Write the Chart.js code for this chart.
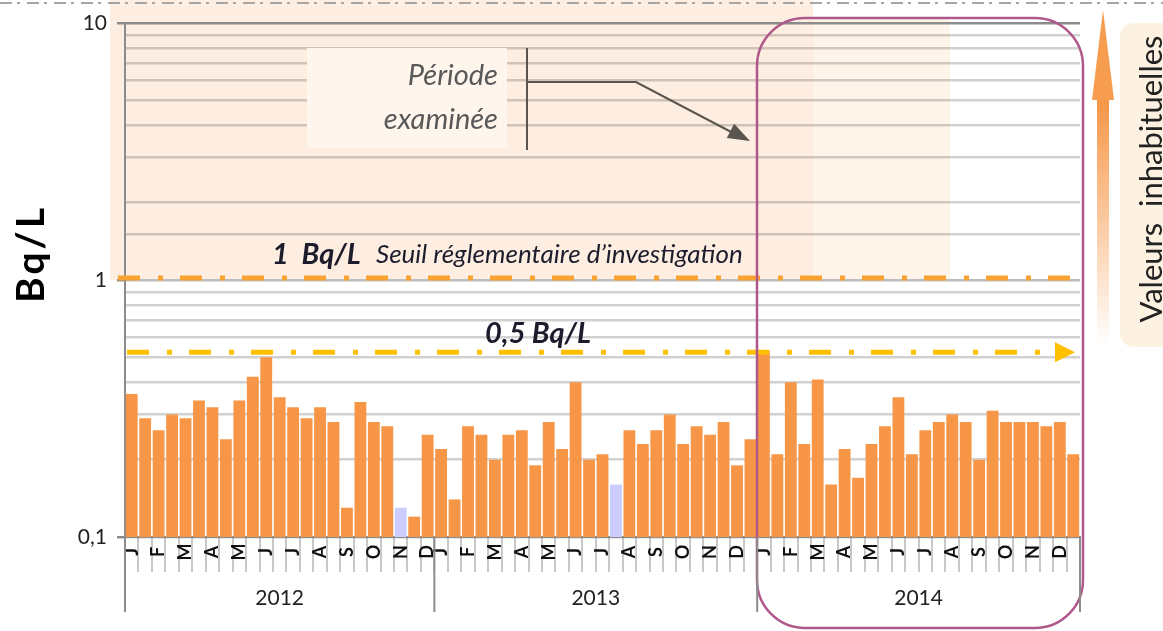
<!DOCTYPE html>
<html lang="fr">
<head>
<meta charset="utf-8">
<title>Activité mesurée (Bq/L)</title>
<script src="https://cdn.jsdelivr.net/npm/chart.js@4.4.1/dist/chart.umd.min.js"></script>
<style>
    html, body { margin: 0; padding: 0; background: #fff; }
    #wrap { position: relative; width: 1163px; height: 631px; }
</style>
</head>
<body>
<div id="wrap"><canvas id="chart"></canvas></div>
<script>
// Years shown under the axis and number of samples in each
const years = ['2012', '2013', '2014'];
const samplesPerYear = [23, 24, 24];
const monthLetters = ['J', 'F', 'M', 'A', 'M', 'J', 'J', 'A', 'S', 'O', 'N', 'D'];

// Measured activity (Bq/L), two samples per month
const values2012 = [0.36, 0.29, 0.26, 0.30, 0.29, 0.34, 0.32, 0.24, 0.34, 0.42, 0.50, 0.35,
                    0.32, 0.29, 0.32, 0.28, 0.13, 0.335, 0.28, 0.27, 0.13, 0.12, 0.25];
const values2013 = [0.22, 0.14, 0.27, 0.25, 0.20, 0.25, 0.26, 0.19, 0.28, 0.22, 0.40, 0.20,
                    0.21, 0.16, 0.26, 0.23, 0.26, 0.30, 0.23, 0.27, 0.25, 0.28, 0.19, 0.24];
const values2014 = [0.53, 0.21, 0.40, 0.23, 0.41, 0.16, 0.22, 0.17, 0.23, 0.27, 0.35, 0.21,
                    0.26, 0.28, 0.30, 0.28, 0.20, 0.31, 0.28, 0.28, 0.28, 0.27, 0.28, 0.21];

// Samples drawn in lavender (position in the whole series)
const belowLimit = [20, 36];

// Y axis labels
const yTickValues = [0.1, 1, 10];
const yTickTexts = ['0,1', '1', '10'];

// Reference levels
const regulatoryLimit = 1;
const referenceLevel = 0.5;

const ORANGE = '#f79646';
const LAVENDER = '#ccccff';

// Build the series and the month label of each sample
const allValues = [].concat(values2012, values2013, values2014);
const sampleLabels = [];
const yearStartIdx = [];
samplesPerYear.forEach(n => {
    yearStartIdx.push(sampleLabels.length);
    for (let i = 0; i < n; i++) {
        sampleLabels.push(i % 2 === 0 ? monthLetters[i / 2] : '');
    }
});
yearStartIdx.push(sampleLabels.length);

function isMajor(v) {
    return yTickValues.some(t => Math.abs(t - v) < 1e-9);
}

// Month letters, year labels and year separators under the x axis
const yearAxis = {
    id: 'yearAxis',
    afterDraw(chart) {
        const { ctx, chartArea, scales } = chart;
        const x = scales.x;
        const step = x.getPixelForValue(1) - x.getPixelForValue(0);
        const base = chartArea.bottom;
        ctx.save();

        ctx.fillStyle = '#111';
        ctx.font = 'bold 18px Lato';
        ctx.textAlign = 'center';
        ctx.textBaseline = 'middle';
        sampleLabels.forEach((lab, i) => {
            if (!lab) return;
            ctx.save();
            ctx.translate(x.getPixelForValue(i), base + 15);
            ctx.rotate(-Math.PI / 2);
            ctx.fillText(lab, 0, 0);
            ctx.restore();
        });

        ctx.strokeStyle = '#8c8c8c';
        ctx.lineWidth = 2;
        yearStartIdx.forEach(idx => {
            const px = x.getPixelForValue(idx) - step / 2;
            ctx.beginPath();
            ctx.moveTo(px, base);
            ctx.lineTo(px, base + 75);
            ctx.stroke();
        });

        ctx.fillStyle = '#222';
        ctx.font = '21px Lato';
        years.forEach((yr, k) => {
            const mid = (yearStartIdx[k] + yearStartIdx[k + 1] - 1) / 2;
            const px = x.getPixelForValue(yearStartIdx[k]) + (mid - yearStartIdx[k]) * step;
            ctx.fillText(yr, px, base + 61);
        });
        ctx.restore();
    }
};

// Extra drawings: shaded zone, thresholds, notes
const decorations = {
    id: 'decorations',
    beforeDraw(chart) {
        const { ctx, chartArea, scales } = chart;
        const yReg = scales.y.getPixelForValue(regulatoryLimit);
        ctx.save();
        ctx.fillStyle = '#fdeee1';
        ctx.fillRect(110, 0, 703, yReg);
        ctx.fillStyle = '#fef4ea';
        ctx.fillRect(813, chartArea.top - 4, 137, yReg - chartArea.top + 4);
        ctx.restore();
    },
    afterDraw(chart) {
        const { ctx, chartArea, scales } = chart;
        const yReg = scales.y.getPixelForValue(regulatoryLimit) - 2;
        const yRef = scales.y.getPixelForValue(referenceLevel) - 5;

        function line(x1, y1, x2, y2) {
            ctx.beginPath();
            ctx.moveTo(x1, y1);
            ctx.lineTo(x2, y2);
            ctx.stroke();
        }

        ctx.save();

        // top dotted separator
        ctx.strokeStyle = '#a6a6a6';
        ctx.lineWidth = 2;
        ctx.setLineDash([12, 5, 3, 7]);
        line(0, 3, chart.width, 3);

        // 1 Bq/L regulatory threshold
        ctx.strokeStyle = '#f7a233';
        ctx.lineWidth = 5;
        ctx.setLineDash([22, 18, 5, 17]);
        line(chartArea.left - 7, yReg, chartArea.right, yReg);

        // 0.5 Bq/L line with arrow
        ctx.strokeStyle = '#ffc000';
        line(chartArea.left + 2, yRef, chartArea.right - 22, yRef);
        ctx.setLineDash([]);
        ctx.fillStyle = '#ffc000';
        ctx.beginPath();
        ctx.moveTo(chartArea.right - 25, yRef - 10);
        ctx.lineTo(chartArea.right - 5, yRef);
        ctx.lineTo(chartArea.right - 25, yRef + 10);
        ctx.closePath();
        ctx.fill();

        // threshold texts
        ctx.fillStyle = '#1c1c2c';
        ctx.textBaseline = 'alphabetic';
        ctx.textAlign = 'left';
        ctx.font = 'italic bold 29px Lato';
        ctx.fillText('1  Bq/L', 272, 264);
        ctx.font = 'italic 26px Lato';
        ctx.fillText('Seuil réglementaire d\u2019investigation', 376, 263);
        ctx.font = 'italic bold 29px Lato';
        ctx.fillText('0,5 Bq/L', 485, 343);

        // "Période examinée" note
        ctx.fillStyle = '#fef5ec';
        ctx.fillRect(307, 48, 200, 100);
        ctx.fillStyle = '#595959';
        ctx.textAlign = 'right';
        ctx.textBaseline = 'middle';
        ctx.font = 'italic 29px Lato';
        ctx.fillText('Période', 498, 76);
        ctx.fillText('examinée', 498, 120);

        ctx.strokeStyle = '#5a554f';
        ctx.lineWidth = 2;
        line(527, 48, 527, 150);
        ctx.beginPath();
        ctx.moveTo(527, 82);
        ctx.lineTo(636, 82);
        ctx.lineTo(735, 134);
        ctx.stroke();
        ctx.fillStyle = '#5a554f';
        const ang = Math.atan2(140 - 82, 748 - 636);
        ctx.beginPath();
        ctx.moveTo(750, 141);
        ctx.lineTo(750 - 22 * Math.cos(ang) + 8 * Math.sin(ang), 141 - 22 * Math.sin(ang) - 8 * Math.cos(ang));
        ctx.lineTo(750 - 22 * Math.cos(ang) - 8 * Math.sin(ang), 141 - 22 * Math.sin(ang) + 8 * Math.cos(ang));
        ctx.closePath();
        ctx.fill();

        // frame around the examined year
        ctx.strokeStyle = '#b0588a';
        ctx.lineWidth = 2.5;
        ctx.beginPath();
        ctx.roundRect(757, 18, 326, 610, 48);
        ctx.stroke();

        // "unusual values" arrow and label
        const grad = ctx.createLinearGradient(0, 345, 0, 100);
        grad.addColorStop(0, 'rgba(247,150,70,0)');
        grad.addColorStop(1, 'rgba(247,150,70,1)');
        ctx.fillStyle = grad;
        ctx.fillRect(1097, 99, 12, 246);
        ctx.fillStyle = '#f79d50';
        ctx.beginPath();
        ctx.moveTo(1103, 10);
        ctx.lineTo(1114, 100);
        ctx.lineTo(1092, 100);
        ctx.closePath();
        ctx.fill();

        ctx.fillStyle = '#fdf2e1';
        ctx.beginPath();
        ctx.roundRect(1120, 23, 60, 324, 14);
        ctx.fill();

        ctx.fillStyle = '#222';
        ctx.textAlign = 'center';
        ctx.textBaseline = 'alphabetic';
        ctx.font = '31px Lato';
        ctx.translate(1162, 179);
        ctx.rotate(-Math.PI / 2);
        ctx.fillText('Valeurs  inhabituelles', 0, 0);
        ctx.setTransform(1, 0, 0, 1, 0, 0);

        // y axis title
        ctx.fillStyle = '#000';
        ctx.textBaseline = 'middle';
        ctx.font = 'bold 39px Lato';
        ctx.letterSpacing = '3px';
        ctx.translate(31, 254);
        ctx.rotate(-Math.PI / 2);
        ctx.fillText('Bq/L', 0, 0);

        ctx.restore();
    }
};

const chart = new Chart(document.getElementById('chart'), {
    type: 'bar',
    data: {
        labels: sampleLabels,
        datasets: [{
            label: 'Activité (Bq/L)',
            data: allValues,
            backgroundColor: allValues.map((v, i) => belowLimit.includes(i) ? LAVENDER : ORANGE),
            borderWidth: 0,
            barPercentage: 0.88,
            categoryPercentage: 1
        }]
    },
    options: {
        responsive: true,
        maintainAspectRatio: false,
        animation: false,
        layout: { padding: { top: 23, right: 83, bottom: 59, left: 0 } },
        plugins: {
            legend: { display: false },
            tooltip: { enabled: false }
        },
        scales: {
            x: {
                type: 'category',
                offset: true,
                border: { display: true, color: '#8c8c8c', width: 2 },
                grid: {
                    offset: true,
                    drawOnChartArea: false,
                    tickLength: 35,
                    lineWidth: 2,
                    color: '#c8c8c8'
                },
                ticks: { display: false }
            },
            y: {
                type: 'logarithmic',
                min: 0.1,
                max: 10,
                border: { color: '#8c8c8c', width: 2 },
                grid: {
                    lineWidth: 2.5,
                    tickLength: 8,
                    color: (ctx) => {
                        const v = ctx.tick.value;
                        if (Math.abs(v - 10) < 1e-9) return '#8c8c8c';
                        if (Math.abs(v - 1) < 1e-9) return '#bdbdbd';
                        return 'rgba(0,0,0,0.18)';
                    },
                    tickColor: (ctx) => isMajor(ctx.tick.value) ? '#8c8c8c' : 'rgba(0,0,0,0)'
                },
                ticks: {
                    autoSkip: false,
                    padding: 10,
                    color: '#222',
                    font: { family: 'Lato', size: 21 },
                    callback: (v) => {
                        const k = yTickValues.findIndex(t => Math.abs(t - v) < 1e-9);
                        return k >= 0 ? yTickTexts[k] : '';
                    }
                },
                afterFit: (axis) => { axis.width = 125; }
            }
        }
    },
    plugins: [decorations, yearAxis]
});
</script>
</body>
</html>
